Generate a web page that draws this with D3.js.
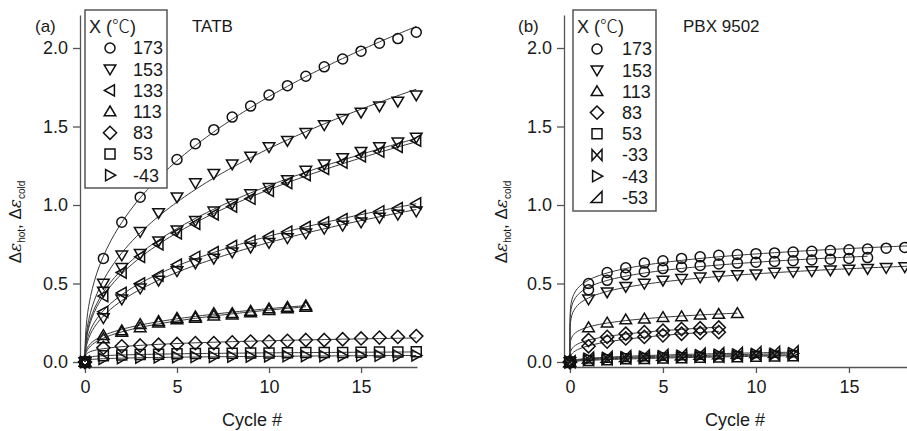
<!DOCTYPE html>
<html><head><meta charset="utf-8">
<script src="https://cdn.jsdelivr.net/npm/d3@7"></script>
<style>
body{margin:0;background:#fff;}
text{font-family:Arial,"Liberation Sans",sans-serif;fill:#1a1a1a;}
</style>
</head><body>
<svg id="chart" width="907" height="431"></svg>
<script>
// ---------- data ----------
const cycles18 = [0,1,2,3,4,5,6,7,8,9,10,11,12,13,14,15,16,17,18];
const cycles16 = [0,1,2,3,4,5,6,7,8,9,10,11,12,13,14,15,16];
const cycles12 = [0,1,2,3,4,5,6,7,8,9,10,11,12];
const cycles9  = [0,1,2,3,4,5,6,7,8,9];
const cycles8  = [0,1,2,3,4,5,6,7,8];

// (a) TATB
const tatb173  = [0,0.66,0.89,1.05,1.18,1.29,1.39,1.48,1.56,1.63,1.70,1.76,1.82,1.88,1.93,1.98,2.03,2.06,2.10];
const tatb153  = [0,0.50,0.68,0.83,0.95,1.05,1.14,1.20,1.26,1.31,1.37,1.41,1.46,1.51,1.55,1.59,1.63,1.66,1.70];
const tatb153c = [0,0.45,0.60,0.69,0.77,0.84,0.90,0.96,1.01,1.07,1.11,1.16,1.22,1.26,1.30,1.34,1.37,1.40,1.43];
const tatb133  = [0,0.42,0.57,0.67,0.75,0.82,0.88,0.94,0.99,1.04,1.09,1.14,1.19,1.23,1.27,1.31,1.34,1.37,1.41];
const tatb133c = [0,0.32,0.44,0.50,0.55,0.62,0.67,0.70,0.74,0.77,0.80,0.83,0.86,0.89,0.91,0.93,0.96,0.98,1.01];
const tatb133d = [0,0.28,0.40,0.47,0.52,0.58,0.63,0.66,0.70,0.73,0.76,0.79,0.82,0.85,0.87,0.89,0.92,0.94,0.96];
const tatb113  = [0,0.17,0.20,0.24,0.26,0.28,0.29,0.31,0.31,0.325,0.34,0.35,0.36];
const tatb113c = [0,0.15,0.19,0.22,0.25,0.27,0.28,0.295,0.30,0.315,0.33,0.34,0.35];
const tatb83   = [0,0.09,0.10,0.105,0.11,0.115,0.12,0.12,0.125,0.13,0.13,0.135,0.14,0.14,0.145,0.15,0.155,0.16,0.165];
const tatb53   = [0,0.04,0.045,0.048,0.05,0.052,0.054,0.055,0.056,0.057,0.058,0.059,0.06,0.06,0.061,0.062,0.063,0.064,0.065];
const tatbm43  = [0,0.02,0.025,0.028,0.03,0.031,0.032,0.033,0.034,0.035,0.036,0.037,0.038,0.038,0.039,0.04,0.04,0.041,0.042];

// (b) PBX 9502
const pbx173  = [0,0.50,0.57,0.60,0.63,0.645,0.66,0.67,0.68,0.685,0.69,0.695,0.70,0.705,0.71,0.715,0.72,0.725,0.73];
const pbx173c = [0,0.46,0.52,0.555,0.575,0.595,0.605,0.615,0.625,0.63,0.635,0.64,0.645,0.65,0.655,0.66,0.665];
const pbx153  = [0,0.40,0.445,0.48,0.50,0.52,0.53,0.54,0.55,0.555,0.56,0.57,0.575,0.58,0.585,0.59,0.595,0.60,0.605];
const pbx113  = [0,0.22,0.25,0.27,0.275,0.285,0.29,0.30,0.305,0.31];
const pbx83   = [0,0.14,0.16,0.18,0.19,0.20,0.21,0.215,0.22];
const pbx83c  = [0,0.10,0.13,0.15,0.16,0.17,0.18,0.185,0.19];
const pbx53   = [0,0.01,0.015,0.02,0.022,0.025,0.027,0.03,0.032,0.034,0.036,0.038,0.04];
const pbxm33  = [0,0.015,0.02,0.025,0.028,0.03,0.033,0.035,0.037,0.04,0.042,0.044,0.046];
const pbxm43  = [0,0.02,0.025,0.03,0.033,0.036,0.039,0.042,0.045,0.047,0.05,0.052,0.055];
const pbxm53  = [0,0.025,0.03,0.035,0.04,0.043,0.046,0.05,0.053,0.056,0.06,0.062,0.065];

const legendA = [["circle","173"],["down","153"],["left","133"],["up","113"],["diamond","83"],["square","53"],["right","-43"]];
const legendB = [["circle","173"],["down","153"],["up","113"],["diamond","83"],["square","53"],["bowtie","-33"],["right","-43"],["rtri","-53"]];
const yTicks = [0,0.5,1.0,1.5,2.0];
const xTicks = [0,5,10,15];

const seriesA = [
  [cycles18,tatb173,"circle"],[cycles18,tatb153,"down"],[cycles18,tatb133,"left"],[cycles18,tatb153c,"down"],
  [cycles18,tatb133c,"left"],[cycles18,tatb133d,"down"],[cycles12,tatb113,"up"],[cycles12,tatb113c,"up"],
  [cycles18,tatb83,"diamond"],[cycles18,tatb53,"square"],[cycles18,tatbm43,"right"]
];
const seriesB = [
  [cycles18,pbx173,"circle"],[cycles16,pbx173c,"circle"],[cycles18,pbx153,"down"],[cycles9,pbx113,"up"],
  [cycles8,pbx83,"diamond"],[cycles8,pbx83c,"diamond"],[cycles12,pbx53,"square"],[cycles12,pbxm33,"bowtie"],
  [cycles12,pbxm43,"right"],[cycles12,pbxm53,"rtri"]
];

// ---------- drawing ----------
const svg = d3.select("#chart");
const shapes = {
  circle:"M5,0A5,5 0 1,1 -5,0A5,5 0 1,1 5,0Z",
  down:"M-5.8,-4.2L5.8,-4.2L0,5.6Z",
  up:"M0,-5.6L5.8,4.2L-5.8,4.2Z",
  left:"M-5.6,0L4.4,-5.6L4.4,5.6Z",
  right:"M5.6,0L-4.4,-5.6L-4.4,5.6Z",
  diamond:"M0,-6.6L6.6,0L0,6.6L-6.6,0Z",
  square:"M-5,-5H5V5H-5Z",
  bowtie:"M-5,-5.5L5,5.5L5,-5.5L-5,5.5Z",
  rtri:"M5,-6L5,5L-6,5Z"
};

function powerFit(xs, ys){
  const p = xs.map((x,i)=>[x,ys[i]]).filter(d=>d[0]>0 && d[1]>0);
  const lx = p.map(d=>Math.log(d[0])), ly = p.map(d=>Math.log(d[1]));
  const mx = d3.mean(lx), my = d3.mean(ly);
  const b = d3.sum(lx,(v,i)=>(v-mx)*(ly[i]-my))/d3.sum(lx,v=>(v-mx)*(v-mx));
  const a = Math.exp(my - b*mx);
  return x => x<=0 ? 0 : a*Math.pow(x,b);
}

function panel(cfg){
  const x = d3.scaleLinear().domain(cfg.xDomain).range(cfg.xRange);
  const y = d3.scaleLinear().domain([-0.0191,2.2102]).range([365,15]);
  const g = svg.append("g");
  const cid = "clip"+cfg.id;
  svg.append("clipPath").attr("id",cid).append("rect")
     .attr("x",cfg.xRange[0]).attr("y",10).attr("width",cfg.xRange[1]-cfg.xRange[0]).attr("height",360);

  // axes
  const yAx = g.append("g").attr("transform",`translate(${cfg.xRange[0]},0)`)
    .call(d3.axisLeft(y).tickValues(yTicks).tickFormat(d3.format(".1f")).tickSize(7).tickSizeOuter(0).tickPadding(5));
  const xAx = g.append("g").attr("transform",`translate(0,367)`)
    .call(d3.axisBottom(x).tickValues(xTicks).tickSize(6).tickSizeOuter(0).tickPadding(7));
  [yAx,xAx].forEach(a=>{
    a.selectAll("path,line").attr("stroke","#555").attr("stroke-width",1.3);
    a.selectAll("text").attr("font-size",18).attr("fill","#1a1a1a").style("font-family","Arial,'Liberation Sans',sans-serif");
  });

  // fit lines
  const line = d3.line().x(d=>x(d[0])).y(d=>y(d[1]));
  const sampleBase = [0,0.0005,0.002,0.006,0.015,0.03,0.06,0.1,0.15,0.2,0.3,0.4,0.5,0.65,0.8,1];
  const lg = g.append("g").attr("clip-path",`url(#${cid})`);
  cfg.series.forEach(([xs,ys])=>{
    const f = powerFit(xs,ys);
    const xmax = cfg.extend && xs[xs.length-1]===18 ? 18.2 : xs[xs.length-1];
    const pts = sampleBase.concat(d3.range(1.2,xmax+0.001,0.2)).filter(v=>v<=xmax);
    lg.append("path").attr("d",line(pts.map(v=>[v,f(v)])))
      .attr("fill","none").attr("stroke","#3a3a3a").attr("stroke-width",1);
  });
  // markers
  const mg = g.append("g");
  cfg.series.forEach(([xs,ys,sh])=>{
    mg.selectAll(null).data(xs.map((v,i)=>[v,ys[i]])).join("path")
      .attr("d",shapes[sh]).attr("transform",d=>`translate(${x(d[0])},${y(d[1])})`)
      .attr("fill","none").attr("stroke","#111").attr("stroke-width",1.5);
  });

  // legend
  const L = cfg.legend;
  g.append("rect").attr("x",L.x0).attr("y",10).attr("width",L.x1-L.x0).attr("height",L.bottom-10)
    .attr("fill","#fff").attr("stroke","#555").attr("stroke-width",1.5);
  const tt = g.append("text").attr("x",L.x0+4).attr("y",33).attr("font-size",18);
  tt.append("tspan").text("X (");
  tt.append("tspan").style("font-family","'Noto Sans CJK SC','Noto Sans CJK JP',sans-serif").attr("font-weight",300).text("℃");
  tt.append("tspan").text(")");
  L.items.forEach(([sh,lab],i)=>{
    const yy = L.first + i*L.step;
    g.append("path").attr("d",shapes[sh]).attr("transform",`translate(${L.sx},${yy})`)
      .attr("fill","none").attr("stroke","#111").attr("stroke-width",1.5);
    g.append("text").attr("x",L.tx).attr("y",yy).attr("dy","0.36em").attr("font-size",18).text(lab);
  });

  // labels
  g.append("text").attr("x",cfg.tagX).attr("y",32).attr("font-size",17).text(cfg.tag);
  g.append("text").attr("x",cfg.titleX).attr("y",32).attr("font-size",17).text(cfg.title);
  g.append("text").attr("x",cfg.xlabX).attr("y",426).attr("text-anchor","middle").attr("font-size",18).text("Cycle #");
  const yl = g.append("text").attr("transform",`translate(${cfg.ylabX},222) rotate(-90)`)
    .attr("text-anchor","middle").attr("font-size",17);
  yl.append("tspan").text("Δ");
  yl.append("tspan").attr("font-style","italic").attr("font-family","'DejaVu Serif',serif").text("ε");
  yl.append("tspan").attr("font-size",10).attr("dy",4).text("hot");
  yl.append("tspan").attr("dy",-4).text(", Δ");
  yl.append("tspan").attr("font-style","italic").attr("font-family","'DejaVu Serif',serif").text("ε");
  yl.append("tspan").attr("font-size",10).attr("dy",4).text("cold");
}

panel({id:"a", xDomain:[-0.27,18.04], xRange:[80,417], series:seriesA, extend:false,
  legend:{x0:85,x1:167,bottom:188,first:48,step:21.2,sx:110,tx:133,items:legendA},
  tag:"(a)", tagX:35, title:"TATB", titleX:192, xlabX:252, ylabX:21});
panel({id:"b", xDomain:[-0.32,18.12], xRange:[564,907], series:seriesB, extend:true,
  legend:{x0:573,x1:656,bottom:211,first:49,step:21.2,sx:597,tx:622,items:legendB},
  tag:"(b)", tagX:518, title:"PBX 9502", titleX:683, xlabX:735, ylabX:507});
</script>
</body></html>
